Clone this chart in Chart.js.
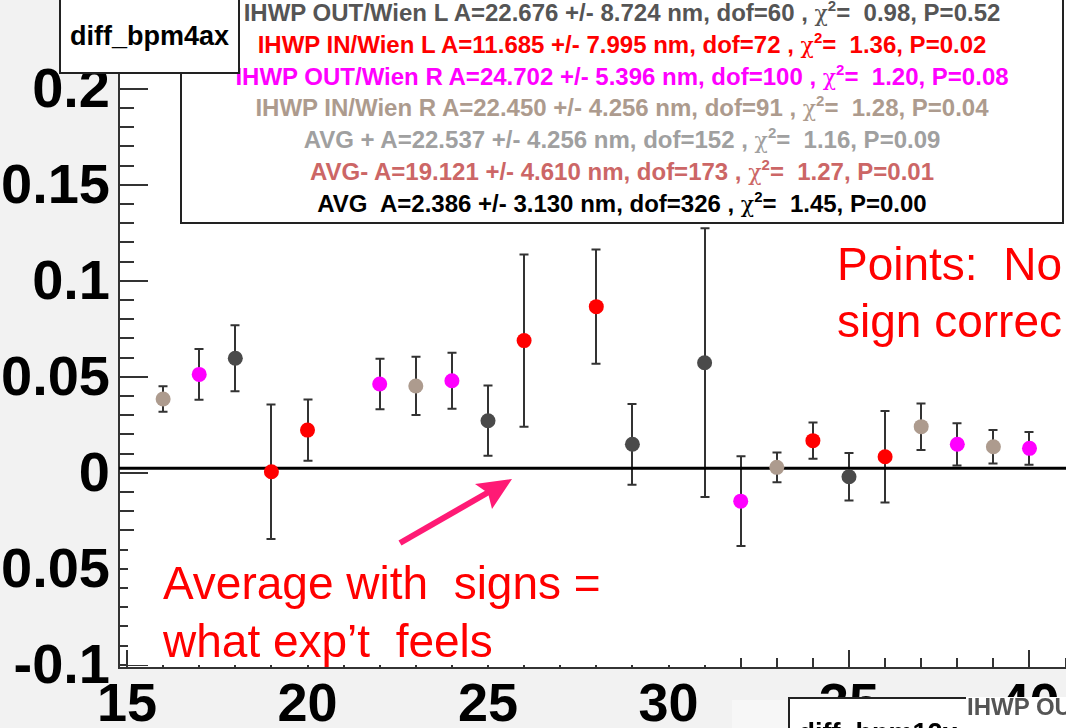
<!DOCTYPE html>
<html>
<head>
<meta charset="utf-8">
<title>diff_bpm4ax</title>
<script src="https://cdn.jsdelivr.net/npm/chart.js@4.4.1/dist/chart.umd.min.js"></script>
<style>
  html, body { margin: 0; padding: 0; width: 1066px; height: 728px; overflow: hidden; background: #f2f2f2; }
  body { position: relative; font-family: "Liberation Sans", Arial, sans-serif; }
  #plot { position: absolute; left: 0; top: 0; }
  .box { position: absolute; background: #fff; border: 2px solid #222; box-sizing: border-box; }
  #title { left: 59px; top: -5px; width: 181px; height: 79px; font-weight: bold; font-size: 27px; line-height: 79px; text-align: center; z-index: 2; }
  #stats { left: 180px; top: -5px; width: 884px; height: 229px; font-weight: bold; font-size: 24px; text-align: center; white-space: pre; z-index: 1; }
  #stats div { height: 31.8px; line-height: 31.8px; }
  .chi { font-weight: normal; font-family: "DejaVu Serif", serif; font-size: 22px; line-height: 0; }
  .chi sup { font-family: "Liberation Sans", Arial, sans-serif; font-weight: bold; font-size: 15px; line-height: 0; vertical-align: baseline; position: relative; top: -10px; }
  .note { position: absolute; color: #ff0000; font-size: 46px; white-space: pre; }
  #noteAvg { left: 128px; top: 548px; width: 608px; height: 117px; background: #fff; padding: 6px 0 0 35px; box-sizing: border-box; line-height: 58px; }
  #notePoints { left: 837px; top: 236px; line-height: 57px; }
  #arrow { position: absolute; left: 0; top: 0; }
  #pad2 { position: absolute; left: 732px; top: 700px; width: 340px; height: 40px; background: #f7f7f7; }
  #title2 { left: 788px; top: 697px; width: 180px; height: 60px; border-bottom: none; font-weight: bold; font-size: 27px; line-height: 27px; padding-top: 21px; text-align: center; }
  #stats2 { position: absolute; left: 966px; top: 697px; width: 120px; height: 40px; background: #fff; }
  #stats2 span { position: absolute; left: 1px; top: -2px; font-weight: bold; font-size: 24px; line-height: 24px; color: #555; white-space: pre; }
</style>
</head>
<body>
<canvas id="plot" width="1100" height="728"></canvas>
<div class="box" id="stats"></div>
<div class="box" id="title">diff_bpm4ax</div>
<div class="note" id="notePoints">Points:  No
sign correc</div>
<div class="note" id="noteAvg">Average with  signs =
what exp’t  feels</div>
<svg id="arrow" width="1066" height="728">
  <line x1="400" y1="543" x2="494" y2="489" stroke="#ff1a75" stroke-width="6"/>
  <polygon points="512,479 475,484 488,493 492,509" fill="#ff1a75"/>
</svg>
<div id="pad2"></div>
<div class="box" id="title2">diff_bpm12x</div>
<div id="stats2"><span>IHWP OUT/Wien L</span></div>
<script>
// axis ranges (run number vs. position difference)
const xMin = 14.778;
const xMax = 41.953;
const yMin = -0.1017;
const yMax = 0.2462;

const xTickValues = [15, 20, 25, 30, 35, 40];
const xTickLabels = ['15', '20', '25', '30', '35', '40'];
const yTickValues = [-0.1, -0.05, 0, 0.05, 0.1, 0.15, 0.2];
const yTickLabels = ['-0.1', '-0.05', '0', '0.05', '0.1', '0.15', '0.2'];

// IHWP OUT / Wien L
const outLRuns = [18, 25, 29, 31, 35];
const outLDiff = [0.0596, 0.0271, 0.0148, 0.0573, -0.0021];
const outLErr = [0.0172, 0.0183, 0.0210, 0.0700, 0.0124];

// IHWP IN / Wien L
const inLRuns = [19, 20, 26, 28, 34, 36];
const inLDiff = [0.0005, 0.0222, 0.0688, 0.0865, 0.0167, 0.0083];
const inLErr = [0.0350, 0.0160, 0.0448, 0.0297, 0.0094, 0.0238];

// IHWP OUT / Wien R
const outRRuns = [17, 22, 24, 32, 38, 40];
const outRDiff = [0.0512, 0.0462, 0.0479, -0.0148, 0.0148, 0.0127];
const outRErr = [0.0132, 0.0131, 0.0146, 0.0234, 0.0110, 0.0085];

// IHWP IN / Wien R
const inRRuns = [16, 23, 33, 37, 39];
const inRDiff = [0.0384, 0.0452, 0.0028, 0.0240, 0.0135];
const inRErr = [0.0066, 0.0152, 0.0077, 0.0121, 0.0087];

// constant fit to all runs with signs, A in nm (axis is in um)
const avgFitNm = 2.386;

const fitLines = [
    { color: '#555555', text: 'IHWP OUT/Wien L A=22.676 +/- 8.724 nm, dof=60 , ', chi: '  0.98, P=0.52' },
    { color: '#ff0000', text: 'IHWP IN/Wien L A=11.685 +/- 7.995 nm, dof=72 , ', chi: '  1.36, P=0.02' },
    { color: '#ff00ff', text: 'IHWP OUT/Wien R A=24.702 +/- 5.396 nm, dof=100 , ', chi: '  1.20, P=0.08' },
    { color: '#ad9b8e', text: 'IHWP IN/Wien R A=22.450 +/- 4.256 nm, dof=91 , ', chi: '  1.28, P=0.04' },
    { color: '#a0a0a0', text: 'AVG + A=22.537 +/- 4.256 nm, dof=152 , ', chi: '  1.16, P=0.09' },
    { color: '#cc6666', text: 'AVG- A=19.121 +/- 4.610 nm, dof=173 , ', chi: '  1.27, P=0.01' },
    { color: '#000000', text: 'AVG  A=2.386 +/- 3.130 nm, dof=326 , ', chi: '  1.45, P=0.00' }
];

const stats = document.getElementById('stats');
fitLines.forEach((line) => {
    const div = document.createElement('div');
    div.style.color = line.color;
    div.innerHTML = line.text + '<span class="chi">χ<sup>2</sup></span>=' + line.chi;
    stats.appendChild(div);
});

function series(label, runs, diff, err, color) {
    return {
        type: 'scatter',
        label: label,
        data: runs.map((run, i) => ({ x: run, y: diff[i] })),
        errors: err,
        backgroundColor: color,
        borderColor: color,
        borderWidth: 0,
        pointRadius: 7.5,
        pointHoverRadius: 7.5,
        order: 0
    };
}

function matchIndex(list, value) {
    return list.findIndex((v) => Math.abs(v - value) < 1e-9);
}

// white frame inside the grey pad
const frameFill = {
    id: 'frameFill',
    beforeDraw(chart) {
        const { ctx, chartArea: a } = chart;
        ctx.save();
        ctx.fillStyle = '#ffffff';
        ctx.fillRect(a.left, a.top, a.right - a.left, a.bottom - a.top);
        ctx.restore();
    }
};

// ROOT style ticks pointing into the frame
const insideTicks = {
    id: 'insideTicks',
    beforeDatasetsDraw(chart) {
        const { ctx, chartArea: a, scales: { x, y } } = chart;
        ctx.save();
        ctx.strokeStyle = '#333333';
        ctx.lineWidth = 2;
        ctx.beginPath();
        x.ticks.forEach((t) => {
            const px = Math.round(x.getPixelForValue(t.value));
            const len = matchIndex(xTickValues, t.value) >= 0 ? 18 : 10;
            ctx.moveTo(px, a.bottom);
            ctx.lineTo(px, a.bottom - len);
        });
        y.ticks.forEach((t) => {
            const py = Math.round(y.getPixelForValue(t.value));
            const len = matchIndex(yTickValues, t.value) >= 0 ? 29 : 15;
            ctx.moveTo(a.left, py);
            ctx.lineTo(a.left + len, py);
        });
        ctx.stroke();
        ctx.restore();
    }
};

const errorBars = {
    id: 'errorBars',
    beforeDatasetsDraw(chart) {
        const { ctx, scales: { x, y } } = chart;
        ctx.save();
        ctx.strokeStyle = '#333333';
        ctx.lineWidth = 2;
        ctx.beginPath();
        chart.data.datasets.forEach((ds) => {
            if (!ds.errors) return;
            ds.data.forEach((p, i) => {
                const px = Math.round(x.getPixelForValue(p.x));
                const top = y.getPixelForValue(p.y + ds.errors[i]);
                const bottom = y.getPixelForValue(p.y - ds.errors[i]);
                ctx.moveTo(px, top);
                ctx.lineTo(px, bottom);
                ctx.moveTo(px - 4.5, top);
                ctx.lineTo(px + 4.5, top);
                ctx.moveTo(px - 4.5, bottom);
                ctx.lineTo(px + 4.5, bottom);
            });
        });
        ctx.stroke();
        ctx.restore();
    }
};

// the frame fills the pad up to its edges, so drop label overhang padding
function noOverhang(scale) {
    scale.paddingTop = 0;
    scale.paddingBottom = 0;
    scale.paddingLeft = 0;
    scale.paddingRight = 0;
}

new Chart(document.getElementById('plot'), {
    type: 'scatter',
    data: {
        datasets: [
            {
                type: 'line',
                label: 'AVG',
                data: [{ x: xMin, y: avgFitNm / 1000 }, { x: xMax, y: avgFitNm / 1000 }],
                borderColor: '#000000',
                borderWidth: 3,
                pointRadius: 0,
                order: 10
            },
            series('IHWP OUT/Wien L', outLRuns, outLDiff, outLErr, '#4a4a4a'),
            series('IHWP IN/Wien L', inLRuns, inLDiff, inLErr, '#ff0000'),
            series('IHWP OUT/Wien R', outRRuns, outRDiff, outRErr, '#ff00ff'),
            series('IHWP IN/Wien R', inRRuns, inRDiff, inRErr, '#ad9b8e')
        ]
    },
    options: {
        responsive: false,
        animation: false,
        layout: { padding: 0, autoPadding: false },
        plugins: {
            legend: { display: false },
            tooltip: { enabled: false }
        },
        scales: {
            x: {
                type: 'linear',
                min: xMin,
                max: xMax,
                afterFit: (scale) => { scale.height = 60; noOverhang(scale); },
                afterBuildTicks: (scale) => {
                    const ticks = [];
                    for (let v = 15; v <= 41; ++v) ticks.push({ value: v });
                    scale.ticks = ticks;
                },
                grid: { display: true, drawOnChartArea: false, drawTicks: false },
                border: { display: true, color: '#333333', width: 2 },
                ticks: {
                    autoSkip: false,
                    maxRotation: 0,
                    padding: 6,
                    color: '#000000',
                    font: { family: 'Liberation Sans', size: 54, weight: 'bold' },
                    callback: (value) => {
                        const i = matchIndex(xTickValues, value);
                        return i >= 0 ? xTickLabels[i] : '';
                    }
                }
            },
            y: {
                type: 'linear',
                min: yMin,
                max: yMax,
                afterFit: (scale) => { scale.width = 119; noOverhang(scale); },
                afterBuildTicks: (scale) => {
                    const ticks = [];
                    for (let i = -10; i <= 24; ++i) ticks.push({ value: i / 100 });
                    scale.ticks = ticks;
                },
                grid: { display: true, drawOnChartArea: false, drawTicks: false },
                border: { display: true, color: '#333333', width: 2 },
                ticks: {
                    autoSkip: false,
                    padding: 9,
                    labelOffset: 3,
                    color: '#000000',
                    font: { family: 'Liberation Sans', size: 56, weight: 'bold' },
                    callback: (value) => {
                        const i = matchIndex(yTickValues, value);
                        return i >= 0 ? yTickLabels[i] : '';
                    }
                }
            }
        }
    },
    plugins: [frameFill, insideTicks, errorBars]
});
</script>
</body>
</html>
